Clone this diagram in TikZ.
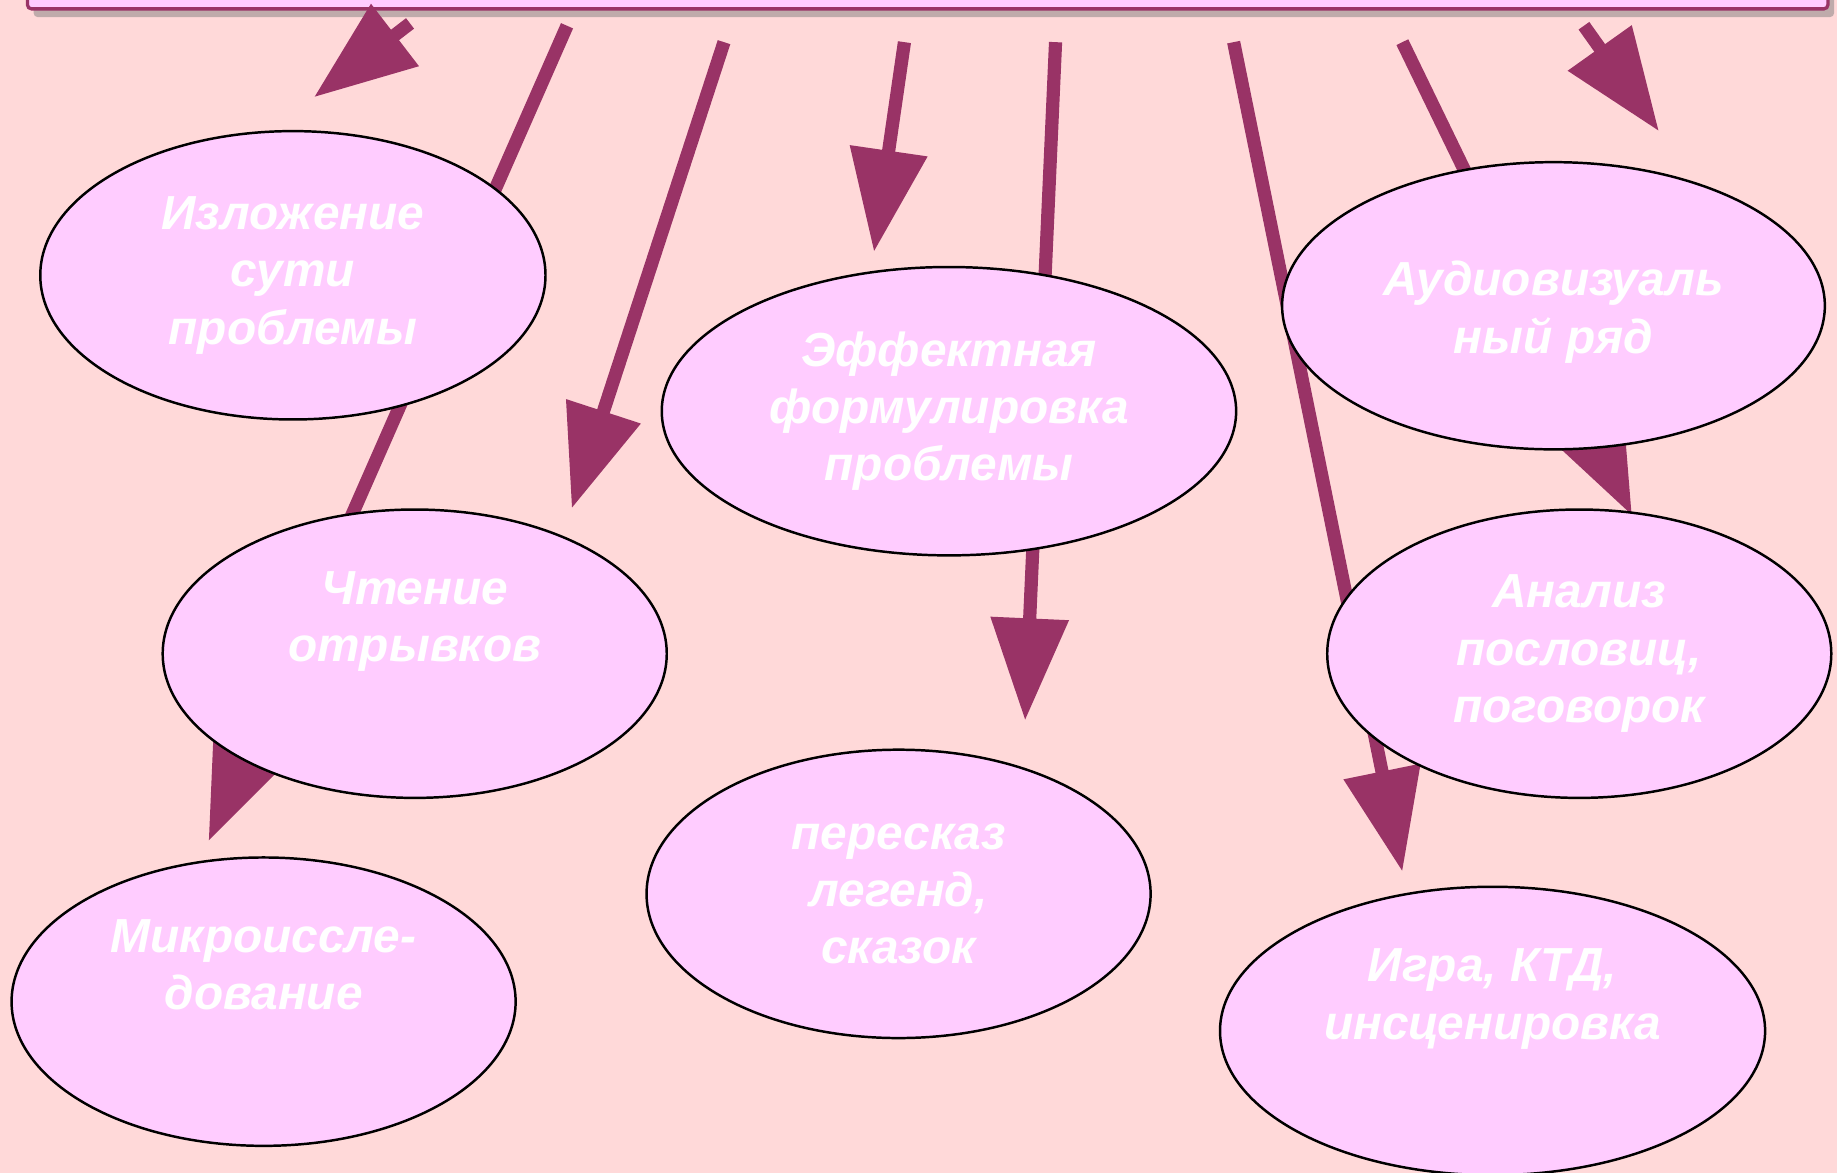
\documentclass[tikz,border=0pt]{standalone}
\usepackage{fontspec}
\setmainfont{Liberation Sans}
\usetikzlibrary{arrows.meta,shapes.geometric,shadows}
\definecolor{bgpink}{HTML}{FFD9D9}
\definecolor{bubble}{HTML}{FFCCFF}
\definecolor{plum}{HTML}{993366}
\begin{document}
\begin{tikzpicture}[x=0.01cm, y=-0.01cm,
    idea/.style={ellipse, draw=black, line width=0.6pt, fill=bubble, inner sep=0pt,
      minimum height=2.46cm, text=white, align=center,
      font=\fontsize{11.6}{13.9}\selectfont\bfseries\itshape},
    pointer/.style={draw=plum, line width=3.2pt, -{Triangle[length=24.8pt,width=18.2pt]}},
    topbox/.style={draw=plum, line width=0.8pt, fill=bubble, rounded corners=1pt,
      drop shadow={shadow xshift=1.5pt, shadow yshift=-2pt, fill=black!55, opacity=.45}}]
    \clip (0,0) rectangle (1568,1001);
    \fill[bgpink] (0,0) rectangle (1568,1001);
    \node[topbox, anchor=south west, minimum width=15.36cm, minimum height=1.5cm] (topic) at (22,9) {};
    % arrows run behind the ellipses
    \foreach \i/\sx/\sy/\tx/\ty in {1/350/20/268/83, 2/484/22/178/718, 3/618/36/488/434,
        4/772/36/746/215, 5/901/36/875/615, 6/1053/36/1197/744,
        7/1197/36/1393/440, 8/1352/22/1416/112}{
      \coordinate (start\i) at (\sx,\sy);
      \coordinate (tip\i) at (\tx,\ty);
      \draw[pointer] (start\i) -- (tip\i);
    }
    \node[idea, minimum width=4.31cm] (sut) at (250,235) {Изложение\\сути\\проблемы};
    \node[idea, minimum width=4.30cm] (chtenie) at (354,558) {Чтение\\отрывков\\[4pt]~};
    \node[idea, minimum width=4.30cm] (mikro) at (225,855) {Микроиссле-\\дование\\[4pt]~};
    \node[idea, minimum width=4.90cm] (formul) at (810,351) {Эффектная\\формулировка\\проблемы};
    \node[idea, minimum width=4.30cm] (pereskaz) at (767,763) {пересказ\\легенд,\\сказок};
    \node[idea, minimum width=4.63cm, minimum height=2.45cm] (audio) at (1326,261)
      {\rule{0pt}{11.5pt}Аудиовизуаль\\ный ряд};
    \node[idea, minimum width=4.30cm] (analiz) at (1348,558) {Анализ\\пословиц,\\поговорок};
    \node[idea, minimum width=4.65cm] (igra) at (1274,880) {Игра, КТД,\\инсценировка\\[4pt]~};
\end{tikzpicture}
\end{document}
